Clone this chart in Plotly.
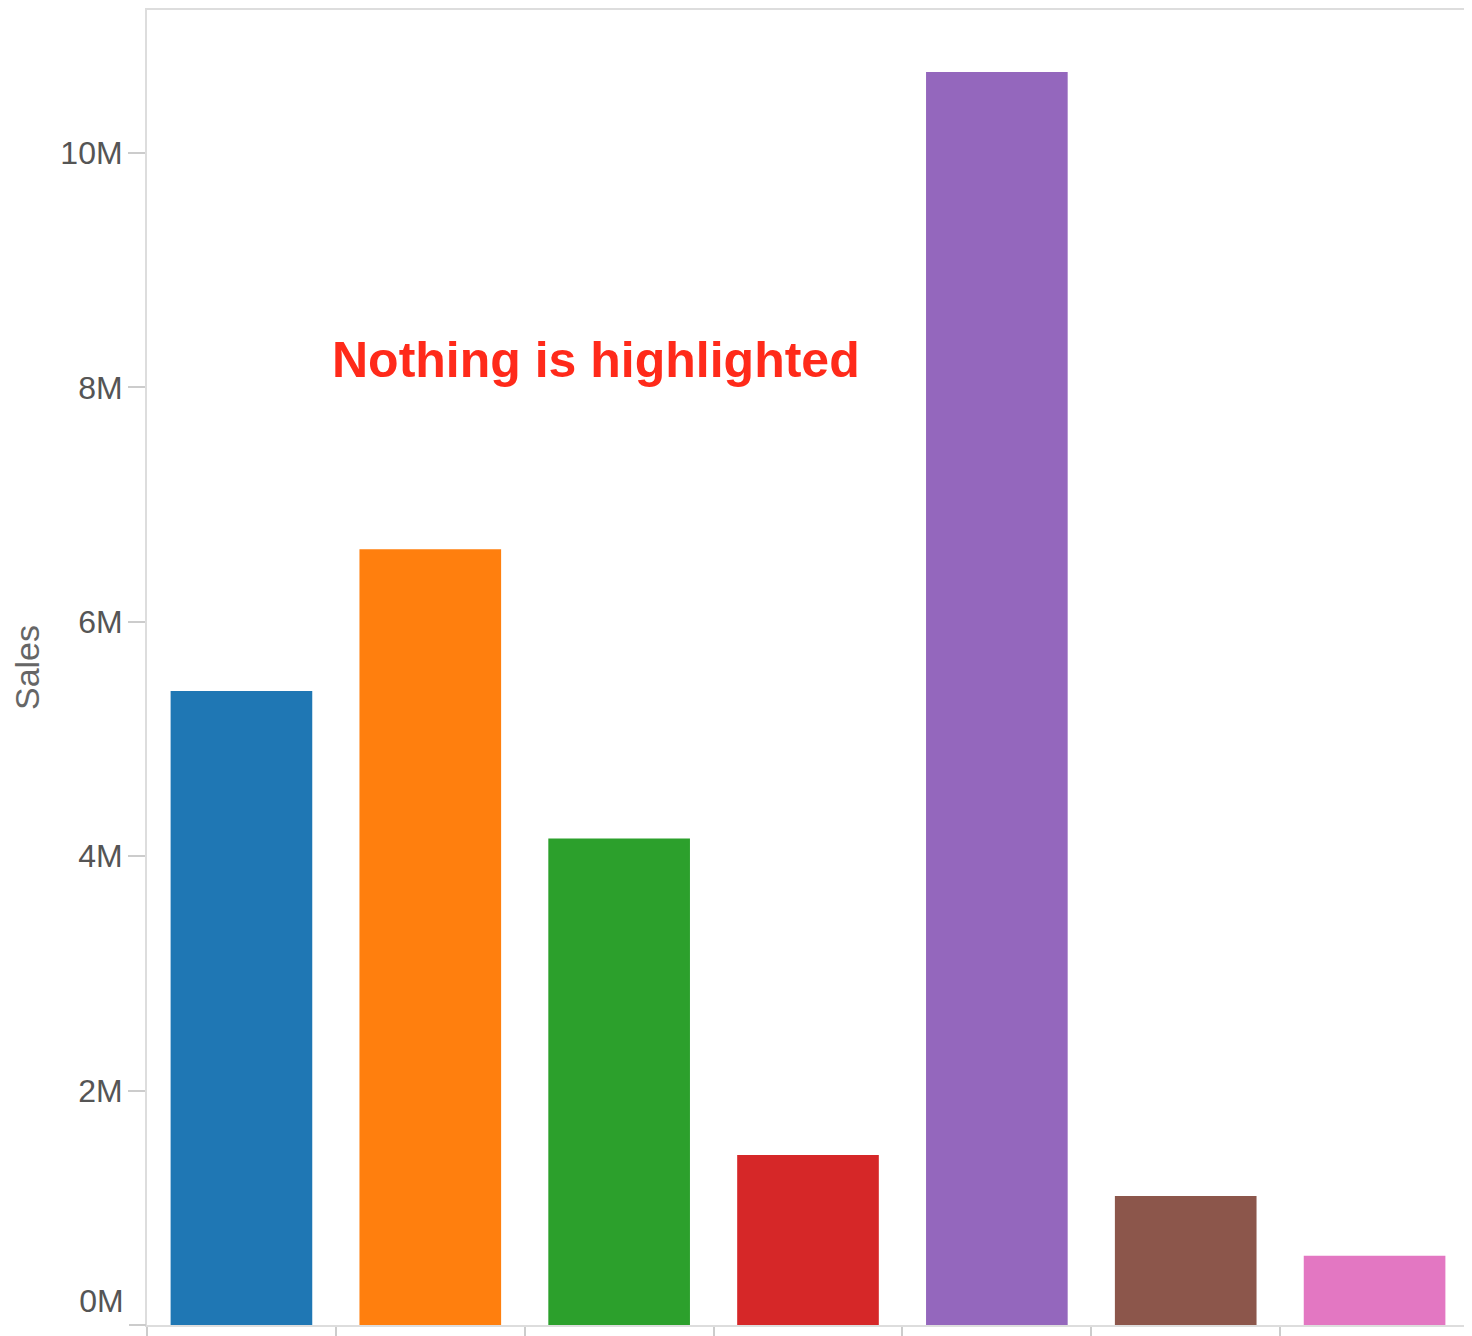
import plotly.graph_objects as go

categories = ["A", "B", "C", "D", "E", "F", "G"]
sales = [5.41e6, 6.62e6, 4.15e6, 1.45e6, 10.69e6, 1.10e6, 0.59e6]
colors = ["#1f77b4", "#ff7f0e", "#2ca02c", "#d62728", "#9467bd", "#8c564b", "#e377c2"]
ytick_vals = [2e6, 4e6, 6e6, 8e6, 10e6]
ytick_text = ["2M", "4M", "6M", "8M", "10M"]
zero_val = [0]
zero_text = ["0M"]
y_max = 11.22e6

FONT = "Liberation Sans, Arial, Helvetica, sans-serif"
AXIS_LINE = "#dddddd"
TICK_COL = "#cccccc"
LABEL_COL = "#555555"

fig = go.Figure()
fig.add_trace(go.Bar(
    x=categories, y=sales,
    marker=dict(color=colors, line=dict(width=0)),
    showlegend=False,
))
# helper trace so the overlaid axis carrying the "0M" label is drawn
fig.add_trace(go.Scatter(
    x=[categories[0]], y=[0], yaxis="y2", mode="markers",
    marker=dict(opacity=0, size=1), showlegend=False, hoverinfo="skip",
))

# the page body adds an 8px offset, so the figure is sized to fit the window
fig.update_layout(
    width=1464, height=1328,
    margin=dict(l=139, r=3, t=2, b=11, pad=0),
    paper_bgcolor="white", plot_bgcolor="white",
    bargap=0.25,
    font=dict(family=FONT, color=LABEL_COL),
    xaxis=dict(
        type="category", range=[-0.5, 6.5], automargin=False,
        showticklabels=False, tickson="boundaries",
        ticks="outside", ticklen=12, tickwidth=2, tickcolor=TICK_COL,
        showline=True, linecolor=AXIS_LINE, linewidth=2, mirror=True,
        showgrid=False, zeroline=False,
    ),
    yaxis=dict(
        range=[0, y_max], tickvals=ytick_vals, ticktext=ytick_text, automargin=False,
        ticks="outside", ticklen=17, tickwidth=2, tickcolor=TICK_COL,
        tickfont=dict(size=32, color=LABEL_COL, family=FONT),
        ticklabelstandoff=-1,
        showline=True, linecolor=AXIS_LINE, linewidth=2, mirror=True,
        showgrid=False, zeroline=False,
        title=dict(text="Sales", font=dict(size=34, color="#666666", family=FONT), standoff=20),
    ),
    yaxis2=dict(
        overlaying="y", side="left", anchor="x", automargin=False,
        range=[0, y_max], tickvals=zero_val, ticktext=zero_text,
        ticks="outside", ticklen=17, tickwidth=2, tickcolor=TICK_COL,
        tickfont=dict(size=32, color=LABEL_COL, family=FONT),
        ticklabelstandoff=-1, ticklabelshift=-24,
        showline=False, showgrid=False, zeroline=False,
    ),
    annotations=[dict(
        text="<b>Nothing is highlighted</b>",
        xref="paper", yref="paper", x=0.340, y=0.734,
        showarrow=False, xanchor="center", yanchor="middle",
        font=dict(size=50, color="#ff2a1a", family=FONT),
    )],
)

fig.write_html("out.html")
